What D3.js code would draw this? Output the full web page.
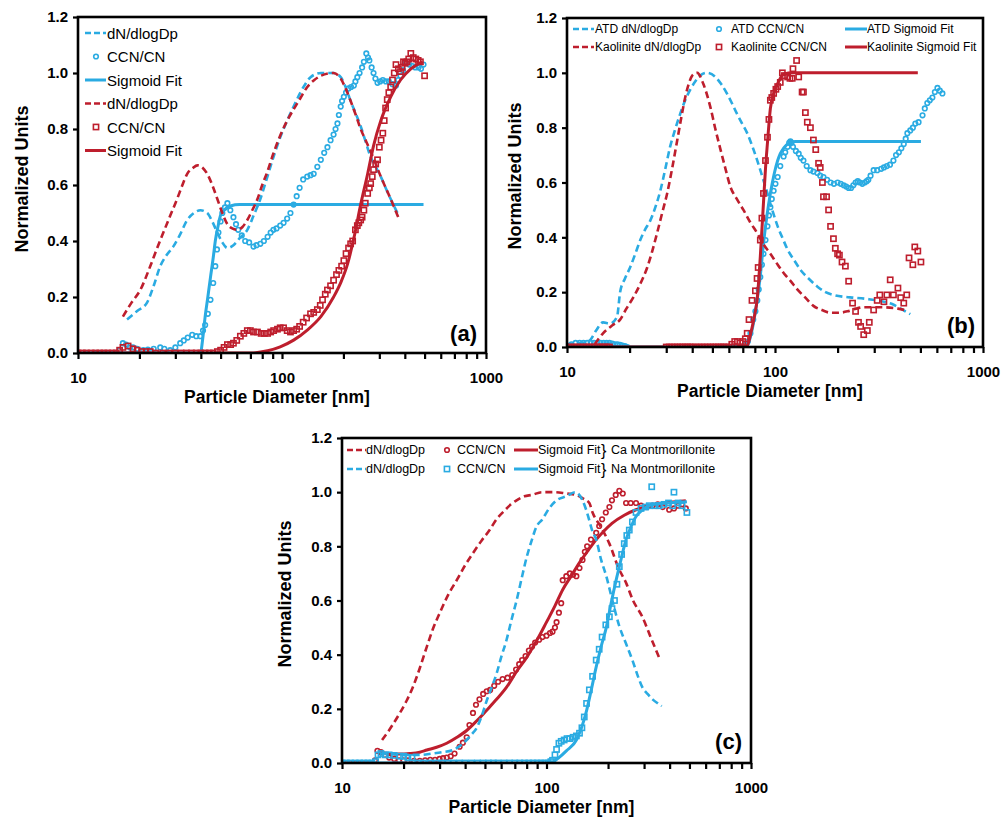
<!DOCTYPE html>
<html>
<head>
<meta charset="utf-8">
<script src="https://cdn.jsdelivr.net/npm/d3@7"></script>
<style>
  html, body { margin: 0; padding: 0; background: #fff; }
  svg { display: block; }
  text { font-family: Arial, "Liberation Sans", sans-serif; }
</style>
</head>
<body>
<svg id="chart" width="1001" height="819"></svg>
<script>
// ---------------- DATA (diameter nm, normalized value) ----------------
const xTickValues = [10,20,30,40,50,60,70,80,90,100,200,300,400,500,600,700,800,900,1000];
const xTickLabels = [10,100,1000];
const yTickValues = [0,0.2,0.4,0.6,0.8,1.0,1.2];

// Panel (a)
const aBlueDN = [[17.4,0.12],[19.5,0.15],[21.8,0.18],[23.5,0.24],[25.3,0.31],[27.2,0.35],[29.3,0.38],[31.5,0.42],[34.3,0.475],[37,0.50],[39.8,0.51],[43,0.50],[45.5,0.47],[48.2,0.43],[51,0.395],[54,0.375],[57.8,0.385],[62,0.41],[67.6,0.44],[72.5,0.49],[78.3,0.55],[84,0.62],[90.8,0.70],[98,0.77],[106,0.83],[114,0.88],[123,0.93],[130,0.96],[138,0.985],[155,1.0],[179,1.0],[194,0.985],[205,0.95],[217,0.90],[230,0.855],[243,0.81],[257,0.755],[272,0.70],[288,0.665],[305,0.63],[322,0.59],[341,0.55],[374,0.49]];
const aBlueCCN = [[10,0],[11,0],[12,0],[13,0],[14,0],[15,0],[16,0.01],[16.6,0.035],[17.2,0.03],[18,0.02],[18.6,0.02],[19.5,0.015],[20.9,0.01],[22,0.012],[23.5,0.015],[25.3,0.02],[26.5,0.015],[28.3,0.01],[30,0.02],[31.7,0.035],[33,0.045],[34.5,0.055],[36.3,0.065],[38,0.06],[39.8,0.06],[41,0.08],[42,0.1],[43.3,0.14],[44.6,0.19],[46,0.25],[47.1,0.31],[48,0.37],[48.8,0.43],[50,0.47],[51,0.50],[52.5,0.52],[54,0.535],[55.8,0.51],[57.8,0.485],[59.5,0.46],[61,0.44],[63.5,0.42],[66,0.40],[69,0.395],[72.5,0.38],[75,0.385],[78.3,0.39],[81.5,0.40],[85,0.415],[88,0.43],[90.8,0.44],[94,0.445],[98,0.455],[101.8,0.465],[106,0.48],[110,0.50],[114,0.53],[118,0.56],[122,0.59],[127,0.62],[133,0.63],[138,0.635],[143,0.64],[149,0.665],[155,0.69],[161,0.715],[167,0.735],[173,0.76],[179,0.78],[183,0.80],[187,0.82],[190,0.85],[194,0.88],[197,0.9],[201,0.915],[206,0.93],[212,0.945],[218,0.95],[225,0.955],[229,0.97],[234,0.985],[240,1.0],[247,1.02],[252,1.04],[259,1.07],[264,1.055],[268,1.045],[275,1.02],[281,1.0],[287,0.98],[294,0.965],[303,0.97],[312,0.975],[323,0.97],[334,0.97],[348,0.96],[362,0.955],[371,0.975],[381,0.99],[392,1.01],[405,1.035],[420,1.03],[435,1.025],[450,1.02],[467,1.02],[480,1.015],[494,1.03]];
const aBlueSig = [[10,0],[20,0],[30,0],[39.8,0],[41,0.06],[42,0.13],[43.3,0.2],[44.6,0.27],[46,0.34],[47.1,0.40],[48.5,0.45],[49.9,0.49],[52,0.51],[55.8,0.525],[62,0.53],[70,0.53],[100,0.53],[200,0.53],[494,0.53]];
const aRedDN = [[16.6,0.13],[18.3,0.18],[20.2,0.225],[22.6,0.31],[24.3,0.37],[26.2,0.43],[28.3,0.49],[30.6,0.55],[32.5,0.60],[34.3,0.64],[36.5,0.66],[38.5,0.67],[41,0.66],[43,0.64],[45.5,0.60],[48.2,0.55],[51,0.50],[54,0.46],[57,0.445],[60.4,0.44],[64,0.45],[67.6,0.475],[71.5,0.51],[75.8,0.55],[80,0.60],[85,0.65],[91,0.715],[98.5,0.78],[106,0.83],[114,0.87],[123,0.91],[133,0.95],[144,0.975],[155,0.99],[179,1.0],[194,0.98],[205,0.945],[217,0.90],[230,0.85],[243,0.80],[257,0.76],[272,0.72],[305,0.63],[341,0.55],[374,0.48]];
const aRedCCN = [[10,0],[10.5,0],[11,0],[11.6,0],[12.2,0],[12.8,0],[13.4,0],[14,0],[14.7,0],[15.4,0],[16,0.01],[16.6,0.02],[17.6,0.025],[18.6,0.015],[19.5,0.01],[20.5,0.005],[21.5,0.005],[22.6,0.005],[24,0],[26,0],[28,0],[30,0],[32,0],[34,0],[36,0],[38,0],[40,0],[42,0],[44,0],[46,0],[48.2,0.005],[50,0.01],[52,0.02],[54,0.03],[56,0.03],[57.8,0.035],[60,0.045],[62.5,0.06],[65,0.07],[67.6,0.08],[70,0.08],[72.5,0.075],[75.8,0.075],[79,0.07],[82,0.07],[85,0.07],[88,0.075],[91,0.08],[95,0.085],[98,0.09],[101.8,0.09],[106,0.08],[110,0.075],[114,0.08],[118,0.085],[122,0.095],[127,0.11],[132,0.125],[138,0.14],[143,0.145],[149,0.155],[154,0.17],[158,0.19],[163,0.21],[167,0.225],[173,0.24],[179,0.26],[185,0.28],[190,0.295],[196,0.31],[201,0.33],[206,0.355],[212,0.375],[217,0.39],[222,0.40],[229,0.44],[234,0.455],[238,0.465],[243,0.475],[247,0.485],[252,0.51],[256,0.535],[263,0.57],[268,0.59],[272,0.605],[277,0.63],[281,0.655],[288,0.675],[294,0.69],[300,0.735],[306,0.76],[312,0.785],[317,0.83],[322,0.875],[328,0.905],[334,0.93],[341,0.95],[348,0.975],[355,1.0],[362,1.03],[372,1.015],[381,1.005],[388,1.02],[394,1.04],[402,1.035],[410,1.04],[418,1.05],[428,1.07],[440,1.055],[453,1.05],[465,1.045],[477,1.04],[500,0.99]];
const aRedSig = [[10,0],[70,0],[85,0.008],[98,0.022],[114,0.046],[133,0.082],[155,0.13],[179,0.20],[195,0.255],[210,0.32],[225,0.41],[243,0.53],[263,0.64],[281,0.74],[305,0.83],[341,0.915],[381,0.975],[428,1.015],[489,1.04]];

// Panel (b)
const bBlueDN = [[10,0.01],[11,0.012],[12,0.015],[12.9,0.025],[13.8,0.06],[14.9,0.09],[16.1,0.085],[17.4,0.11],[18,0.2],[19,0.25],[20.1,0.29],[21.3,0.34],[22.5,0.39],[23.8,0.43],[25.1,0.46],[26.6,0.51],[28.1,0.57],[29.7,0.65],[31.3,0.73],[33,0.79],[35,0.85],[37,0.9],[39.2,0.94],[41.5,0.97],[43.7,0.99],[47,1.0],[51.7,0.985],[55,0.96],[58.7,0.925],[62,0.89],[65.7,0.85],[69.5,0.815],[73.5,0.78],[78,0.73],[82.2,0.68],[87,0.62],[92,0.56],[97,0.50],[103,0.44],[109,0.395],[115,0.355],[124,0.315],[133,0.28],[145,0.25],[160,0.22],[175,0.20],[191,0.19],[215,0.183],[239,0.18],[278,0.175],[334,0.165],[370,0.155],[402,0.14],[447,0.12]];
const bBlueCCN = [[10,0.005],[10.5,0.01],[11,0.015],[11.5,0.015],[12,0.015],[12.5,0.015],[13,0.015],[13.5,0.015],[14,0.015],[14.5,0.015],[15,0.015],[15.5,0.015],[16,0.015],[16.5,0.012],[17,0.01],[17.5,0.01],[18,0.008],[18.5,0.005],[19,0.003],[19.5,0],[56,0],[58,0],[60,0],[62,0],[64,0],[66,0],[68,0],[70,0],[72,0.01],[74,0.02],[76.2,0.05],[78.6,0.10],[80.5,0.13],[82.2,0.17],[83.5,0.21],[85,0.255],[86.5,0.30],[88,0.34],[90,0.39],[92,0.44],[93.5,0.48],[95,0.51],[96.5,0.54],[98.5,0.57],[100.5,0.595],[103,0.62],[106,0.66],[110,0.695],[112,0.71],[115,0.73],[117,0.745],[118.6,0.75],[120,0.745],[122,0.73],[126,0.715],[130,0.705],[133,0.69],[137,0.68],[142,0.66],[148,0.645],[153,0.64],[160,0.635],[165,0.625],[171,0.62],[178,0.61],[185,0.60],[192,0.595],[200,0.60],[207,0.595],[214,0.59],[220,0.585],[226,0.58],[232,0.58],[238,0.59],[244,0.60],[250,0.605],[256,0.60],[263,0.595],[270,0.6],[276,0.605],[281,0.61],[288,0.625],[298,0.645],[310,0.645],[324,0.65],[334,0.655],[345,0.66],[357,0.665],[371,0.68],[382,0.70],[394,0.71],[405,0.725],[416,0.74],[425,0.76],[433,0.78],[447,0.79],[460,0.80],[473,0.815],[490,0.82],[512,0.845],[525,0.87],[540,0.89],[555,0.9],[571,0.91],[587,0.93],[604,0.945],[620,0.935],[638,0.925]];
const bBlueSig = [[10,0],[70,0],[73.5,0.005],[78,0.07],[82,0.17],[85,0.26],[88,0.375],[91.5,0.48],[95,0.56],[99,0.63],[103,0.68],[106,0.705],[110,0.725],[114,0.738],[118.6,0.745],[125,0.75],[150,0.75],[300,0.75],[503,0.75]];
const bRedDN = [[13.6,0.01],[14.9,0.05],[16.6,0.08],[18,0.1],[19.3,0.14],[20.8,0.18],[22.5,0.23],[24.3,0.29],[25.7,0.35],[27.1,0.415],[28.7,0.49],[30.3,0.56],[32,0.65],[33.9,0.755],[35.5,0.84],[37,0.91],[38.5,0.96],[40,0.99],[42.3,1.0],[45.2,0.96],[48.9,0.875],[51.5,0.80],[54.7,0.72],[57.8,0.65],[61,0.585],[65.5,0.54],[70.5,0.50],[76,0.455],[82.2,0.415],[88,0.375],[95,0.34],[102,0.305],[110,0.27],[119,0.24],[128,0.21],[140,0.18],[153,0.15],[168,0.135],[185,0.125],[203,0.125],[223,0.13],[245,0.14],[268,0.145],[324,0.145],[390,0.14],[420,0.135]];
const bRedCCN = [[10,0],[10.4,0],[10.8,0],[11.2,0],[11.6,0],[12,0],[12.4,0],[12.8,0],[13.2,0],[13.6,0],[14,0],[14.4,0],[14.8,0],[15.2,0],[15.6,0],[16,0],[30,0],[31,0],[32,0],[33,0],[34,0],[35,0],[36,0],[37,0],[38,0],[39,0],[40,0],[41.5,0],[43,0],[44.5,0],[46,0],[47.5,0],[49,0],[50.5,0],[52,0],[53.5,0],[55,0],[56.5,0],[58,0],[60,0],[62,0.01],[64,0.02],[66,0.02],[68,0.015],[70,0.02],[72,0.03],[73.5,0.05],[75,0.1],[77.5,0.17],[80.5,0.205],[82,0.25],[83,0.29],[85,0.39],[86.5,0.47],[88,0.56],[90,0.68],[92,0.765],[93.5,0.83],[95,0.90],[96.5,0.91],[98.5,0.925],[101,0.94],[103,0.95],[106,0.965],[108.5,1.0],[111,0.99],[115,0.985],[118,0.98],[121,0.98],[122,1.015],[127,1.045],[130,0.985],[135,0.93],[137,0.93],[140,0.855],[143,0.82],[148,0.80],[153,0.755],[157,0.72],[162,0.67],[165,0.655],[169,0.60],[171,0.548],[177,0.548],[181,0.50],[185,0.44],[191,0.395],[195,0.36],[200,0.34],[204,0.335],[210,0.31],[218,0.295],[226,0.24],[236,0.16],[244,0.13],[252,0.09],[258,0.075],[267,0.045],[278,0.06],[284,0.09],[298,0.135],[310,0.17],[319,0.19],[334,0.165],[345,0.19],[358,0.245],[371,0.19],[390,0.215],[402,0.18],[416,0.16],[430,0.19],[441,0.325],[460,0.30],[470,0.365],[486,0.35],[503,0.31]];
const bRedSig = [[10,0],[70,0],[73.5,0.005],[77,0.06],[80,0.12],[82,0.17],[85,0.33],[88,0.525],[90,0.65],[92,0.745],[95,0.87],[99,0.93],[103,0.96],[107,0.985],[110,0.995],[122,1.0],[200,1.0],[486,1.0]];

// Panel (c)
const cRedDN = [[15.7,0.085],[17.3,0.13],[19.2,0.185],[20.7,0.23],[22.2,0.28],[24,0.35],[26,0.43],[28,0.5],[30.1,0.555],[33,0.62],[36.4,0.675],[40,0.73],[43.7,0.775],[48,0.82],[52.7,0.86],[57,0.90],[62,0.93],[67,0.955],[71.4,0.97],[78,0.985],[85,0.99],[95,1.0],[110,1.0],[125,0.995],[140,0.99],[152,0.975],[162,0.96],[168,0.925],[185,0.87],[203,0.81],[225,0.72],[245,0.665],[265,0.6],[294,0.54],[325,0.46],[355,0.39]];
const cRedCCN = [[10,0],[10.5,0],[11,0],[11.6,0],[12.2,0],[12.8,0],[13.4,0],[14,0],[14.5,0.01],[14.9,0.045],[15.5,0.04],[16.2,0.03],[17,0.02],[18,0.015],[19,0.01],[20,0.01],[21,0.01],[22.5,0.008],[24,0.008],[25.5,0.01],[27,0.012],[28.5,0.012],[30,0.015],[31.2,0.018],[32.5,0.02],[34,0.025],[35.5,0.035],[37.6,0.06],[39,0.075],[40.7,0.095],[42,0.14],[43.7,0.185],[45.2,0.215],[47,0.235],[49,0.255],[51,0.265],[53,0.27],[55.5,0.285],[58,0.3],[61,0.31],[64.5,0.315],[68,0.325],[71,0.345],[73.5,0.365],[76,0.38],[79,0.395],[82,0.415],[85,0.43],[88,0.445],[92,0.455],[95.5,0.465],[100,0.47],[104,0.48],[107,0.485],[110,0.50],[112,0.52],[115,0.555],[118,0.59],[120,0.675],[125,0.69],[130,0.70],[135,0.695],[140,0.69],[145,0.72],[150,0.75],[154,0.78],[158,0.80],[165,0.825],[175,0.85],[181,0.875],[187,0.90],[195,0.925],[203,0.945],[209,0.97],[218,0.99],[227,1.005],[236,0.995],[245,0.96],[258,0.96],[274,0.96],[290,0.95],[310,0.945],[330,0.95],[350,0.955],[370,0.945],[398,0.935],[420,0.94],[440,0.95],[460,0.955],[480,0.94]];
const cRedSig = [[15,0.04],[17,0.035],[19,0.033],[21.4,0.035],[24,0.04],[26,0.048],[29,0.058],[32.5,0.073],[36.5,0.095],[40.7,0.12],[45.5,0.155],[51,0.195],[57,0.235],[63.8,0.28],[71,0.335],[80,0.39],[90,0.455],[100,0.52],[110,0.58],[120,0.64],[132,0.69],[145,0.74],[160,0.785],[175,0.825],[190,0.855],[209,0.885],[240,0.915],[274,0.935],[310,0.948],[344,0.955],[400,0.962],[480,0.968]];
const cBlueDN = [[15.3,0.035],[17,0.035],[19,0.03],[21.4,0.03],[24,0.03],[27.7,0.035],[31,0.04],[34.8,0.048],[38,0.065],[40.7,0.085],[43,0.105],[45.6,0.13],[48,0.17],[51,0.23],[54,0.28],[57,0.33],[60,0.39],[63.8,0.455],[67.5,0.53],[71.4,0.60],[75.5,0.68],[80,0.76],[84.5,0.82],[89,0.87],[95.5,0.9],[103,0.94],[112,0.97],[125,0.985],[138,1.0],[150,0.97],[160,0.91],[167,0.86],[175,0.825],[185,0.75],[196,0.69],[210,0.6],[227,0.505],[245,0.44],[263,0.38],[280,0.32],[294,0.28],[312,0.255],[330,0.235],[350,0.22],[366,0.21]];
const cBlueCCN = [[10,0],[10.5,0],[11,0],[11.6,0],[12.2,0],[12.8,0],[13.4,0],[14,0],[14.6,0.005],[15,0.03],[15.5,0.035],[16.3,0.03],[17,0.03],[18,0.028],[19.2,0.025],[20,0.025],[21,0.02],[22,0.02],[23.5,0],[25,0],[27,0],[29,0],[31,0],[33,0],[35,0],[37.5,0],[40,0],[43,0],[46,0],[49,0],[52,0],[55,0],[58,0],[62,0],[66,0],[70,0],[74,0],[78,0],[82,0],[86,0],[90,0],[94,0],[98,0],[102,0],[105,0.005],[107,0.01],[110,0.03],[112,0.05],[115,0.073],[118,0.08],[122,0.085],[126,0.09],[130,0.09],[135,0.095],[140,0.1],[145,0.11],[149,0.13],[153,0.17],[157,0.22],[162,0.27],[168,0.32],[175,0.38],[181,0.42],[187,0.465],[195,0.51],[203,0.54],[209,0.57],[215,0.60],[221,0.66],[227,0.725],[233,0.77],[240,0.81],[247,0.84],[254,0.86],[263,0.89],[274,0.925],[290,0.94],[305,0.945],[318,0.95],[327,1.02],[340,0.95],[355,0.95],[375,0.955],[395,0.96],[414,0.95],[420,1.0],[440,0.96],[460,0.95],[486,0.925]];
const cBlueSig = [[10,0],[100,0],[108,0.005],[115,0.02],[125,0.045],[140,0.085],[156,0.185],[165,0.265],[175,0.355],[185,0.43],[196,0.50],[207,0.59],[219,0.675],[232,0.755],[245,0.825],[260,0.875],[274,0.91],[295,0.935],[318,0.95],[360,0.958],[420,0.962],[486,0.965]];

// Legend texts
const aLegendNames = ["dN/dlogDp","CCN/CN","Sigmoid Fit","dN/dlogDp","CCN/CN","Sigmoid Fit"];
const bLegendNames = ["ATD dN/dlogDp","ATD CCN/CN","ATD Sigmoid Fit","Kaolinite dN/dlogDp","Kaolinite CCN/CN","Kaolinite Sigmoid Fit"];
const cLegendNames = ["dN/dlogDp","CCN/CN","Sigmoid Fit","dN/dlogDp","CCN/CN","Sigmoid Fit"];
const cGroupNames = ["Ca Montmorillonite","Na Montmorillonite"];
const panelLabels = ["(a)","(b)","(c)"];

// ---------------- STYLE / LAYOUT ----------------
const BLUE = "#2AABE2";
const RED = "#BE1E2D";
const svg = d3.select("#chart");

function drawPanel(p) {
  const x = d3.scaleLog().domain([10, 1000]).range([p.l, p.r]);
  const y = d3.scaleLinear().domain([0, 1.2]).range([p.b, p.t]);
  const g = svg.append("g");

  const clipId = "clip" + p.name;
  svg.append("clipPath").attr("id", clipId)
    .append("rect").attr("x", p.l).attr("y", p.t - 4).attr("width", p.r - p.l).attr("height", p.b - p.t + 4);

  const plot = g.append("g").attr("clip-path", `url(#${clipId})`);
  const line = d3.line().x(d => x(d[0])).y(d => y(d[1])).curve(d3.curveMonotoneX);

  p.series.forEach(s => {
    const col = s.color;
    if (s.type === "dash" || s.type === "solid") {
      plot.append("path").datum(s.data)
        .attr("d", line).attr("fill", "none").attr("stroke", col)
        .attr("stroke-width", s.type === "dash" ? 2.6 : 3)
        .attr("stroke-dasharray", s.type === "dash" ? "7,4" : null);
    } else if (s.type === "circle") {
      plot.append("g").selectAll("circle").data(s.data).join("circle")
        .attr("cx", d => x(d[0])).attr("cy", d => y(d[1])).attr("r", 2.3)
        .attr("fill", "none").attr("stroke", col).attr("stroke-width", 1.6);
    } else if (s.type === "square") {
      plot.append("g").selectAll("rect").data(s.data).join("rect")
        .attr("x", d => x(d[0]) - 2.6).attr("y", d => y(d[1]) - 2.6)
        .attr("width", 5.2).attr("height", 5.2)
        .attr("fill", "none").attr("stroke", col).attr("stroke-width", 1.6);
    }
  });

  // frame
  g.append("rect").attr("x", p.l).attr("y", p.t).attr("width", p.r - p.l).attr("height", p.b - p.t)
    .attr("fill", "none").attr("stroke", "#000").attr("stroke-width", 2.6);

  // y axis
  const ya = g.append("g").attr("transform", `translate(${p.l},0)`)
    .call(d3.axisLeft(y).tickValues(yTickValues).tickFormat(d3.format(".1f")).tickSize(5).tickPadding(5));
  ya.select(".domain").remove();
  ya.selectAll("line").attr("stroke", "#000").attr("stroke-width", 2.2);
  ya.selectAll("text").attr("font-size", 15).attr("font-weight", "bold").attr("fill", "#000")
    .style("font-family", "Arial, 'Liberation Sans', sans-serif");

  // x axis
  const xa = g.append("g").attr("transform", `translate(0,${p.b})`)
    .call(d3.axisBottom(x).tickValues(xTickValues)
      .tickFormat(d => xTickLabels.includes(d) ? String(d) : "").tickSize(6).tickPadding(13));
  xa.select(".domain").remove();
  xa.selectAll("line").attr("stroke", "#000").attr("stroke-width", 2.2);
  xa.selectAll("text").attr("font-size", 15).attr("font-weight", "bold").attr("fill", "#000")
    .style("font-family", "Arial, 'Liberation Sans', sans-serif");

  // axis titles
  g.append("text").attr("x", (p.l + p.r) / 2 - 5).attr("y", p.b + 50)
    .attr("text-anchor", "middle").attr("font-size", 17.5).attr("font-weight", "bold")
    .text("Particle Diameter [nm]");
  g.append("text").attr("transform", `translate(${p.l - p.ytOff},${p.ytY}) rotate(-90)`)
    .attr("text-anchor", "middle").attr("dominant-baseline", "central")
    .attr("font-size", 18).attr("font-weight", "bold").text("Normalized Units");

  // panel label
  g.append("text").attr("x", p.r - p.lblDx).attr("y", p.b - p.lblDy)
    .attr("text-anchor", "end").attr("font-size", 22).attr("font-weight", "bold")
    .text(p.label);

  // legend
  p.legend.forEach(it => {
    const lg = g.append("g");
    if (it.kind === "dash" || it.kind === "solid") {
      lg.append("line").attr("x1", it.sx0).attr("x2", it.sx1).attr("y1", it.y).attr("y2", it.y)
        .attr("stroke", it.color).attr("stroke-width", it.kind === "dash" ? 2.6 : 3)
        .attr("stroke-dasharray", it.kind === "dash" ? "6,3" : null);
    } else if (it.kind === "circle") {
      lg.append("circle").attr("cx", it.mx).attr("cy", it.y).attr("r", 2.3)
        .attr("fill", "none").attr("stroke", it.color).attr("stroke-width", 1.6);
    } else if (it.kind === "square") {
      lg.append("rect").attr("x", it.mx - 2.6).attr("y", it.y - 2.6).attr("width", 5.2).attr("height", 5.2)
        .attr("fill", "none").attr("stroke", it.color).attr("stroke-width", 1.6);
    }
    lg.append("text").attr("x", it.tx).attr("y", it.y).attr("dominant-baseline", "central")
      .attr("font-size", it.fs).attr("fill", "#000").text(it.text);
  });
  (p.extraText || []).forEach(t => {
    g.append("text").attr("x", t.x).attr("y", t.y).attr("dominant-baseline", "central")
      .attr("font-size", t.fs).attr("fill", "#000").text(t.text);
  });
}

// ---------- panel definitions ----------
const aRows = [33, 56.5, 80, 103.5, 127, 150.5];
const aKinds = [["dash",BLUE],["circle",BLUE],["solid",BLUE],["dash",RED],["square",RED],["solid",RED]];
const aLegend = aKinds.map((k, i) => ({kind:k[0], color:k[1], y:aRows[i], sx0:85, sx1:106, mx:96, tx:107, fs:15, text:aLegendNames[i]}));

const bCols = [{sx0:573,sx1:594,tx:595},{mx:719,tx:731},{sx0:845,sx1:867,tx:867}];
const bKinds = [["dash",BLUE],["circle",BLUE],["solid",BLUE],["dash",RED],["square",RED],["solid",RED]];
const bLegend = bKinds.map((k, i) => {
  const c = bCols[i % 3];
  return {kind:k[0], color:k[1], y: i < 3 ? 29 : 47, sx0:c.sx0, sx1:c.sx1, mx:c.mx, tx:c.tx, fs:12, text:bLegendNames[i]};
});

const cCols = [{sx0:347,sx1:366,tx:366},{mx:447,tx:457},{sx0:514,sx1:538,tx:538}];
const cKinds = [["dash",RED],["circle",RED],["solid",RED],["dash",BLUE],["square",BLUE],["solid",BLUE]];
const cRowY = [450, 469];
const cLegend = cKinds.map((k, i) => {
  const c = cCols[i % 3];
  return {kind:k[0], color:k[1], y: cRowY[i < 3 ? 0 : 1], sx0:c.sx0, sx1:c.sx1, mx:c.mx, tx:c.tx, fs:12.5, text:cLegendNames[i]};
});
const cExtra = [
  {x:601, y:cRowY[0], fs:16, text:"}"}, {x:611, y:cRowY[0], fs:12.5, text:cGroupNames[0]},
  {x:601, y:cRowY[1], fs:16, text:"}"}, {x:611, y:cRowY[1], fs:12.5, text:cGroupNames[1]}
];

const panels = [
  {name:"a", l:78, r:486, t:17, b:353, label:panelLabels[0], lblDx:9, lblDy:12, ytOff:56, ytY:179,
   legend:aLegend,
   series:[
     {type:"dash", color:BLUE, data:aBlueDN},
     {type:"circle", color:BLUE, data:aBlueCCN},
     {type:"solid", color:BLUE, data:aBlueSig},
     {type:"dash", color:RED, data:aRedDN},
     {type:"square", color:RED, data:aRedCCN},
     {type:"solid", color:RED, data:aRedSig}
   ]},
  {name:"b", l:567, r:983, t:18, b:347, label:panelLabels[1], lblDx:8, lblDy:14, ytOff:52, ytY:176,
   legend:bLegend,
   series:[
     {type:"dash", color:BLUE, data:bBlueDN},
     {type:"circle", color:BLUE, data:bBlueCCN},
     {type:"solid", color:BLUE, data:bBlueSig},
     {type:"dash", color:RED, data:bRedDN},
     {type:"square", color:RED, data:bRedCCN},
     {type:"solid", color:RED, data:bRedSig}
   ]},
  {name:"c", l:342, r:751, t:438, b:763, label:panelLabels[2], lblDx:9, lblDy:14, ytOff:57, ytY:594,
   legend:cLegend, extraText:cExtra,
   series:[
     {type:"dash", color:RED, data:cRedDN},
     {type:"circle", color:RED, data:cRedCCN},
     {type:"solid", color:RED, data:cRedSig},
     {type:"dash", color:BLUE, data:cBlueDN},
     {type:"square", color:BLUE, data:cBlueCCN},
     {type:"solid", color:BLUE, data:cBlueSig}
   ]}
];

panels.forEach(drawPanel);
</script>
</body>
</html>
